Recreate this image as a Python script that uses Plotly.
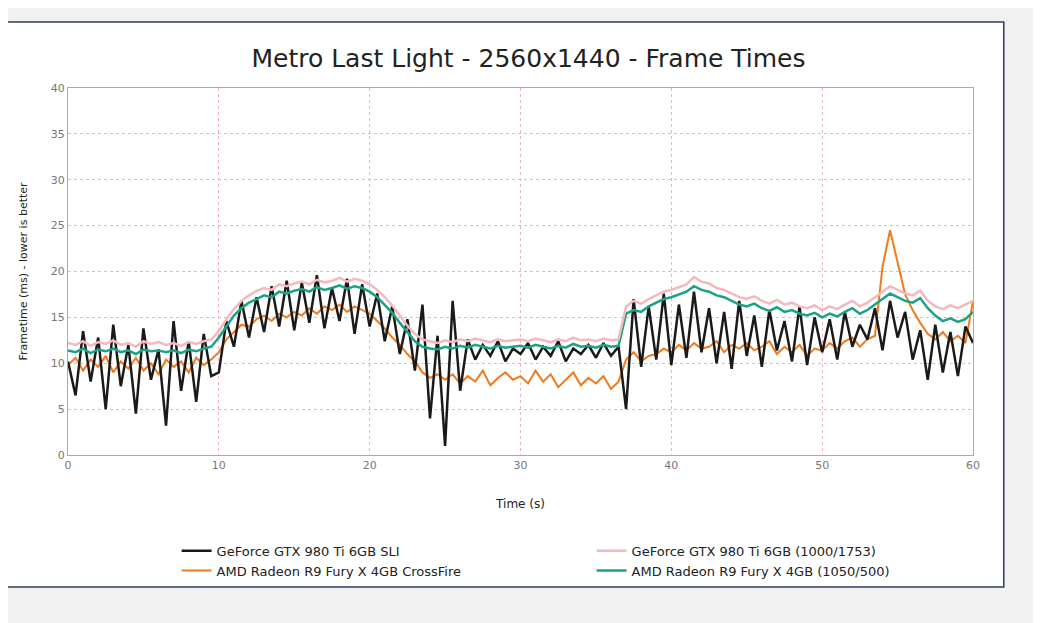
import plotly.graph_objects as go

t=[i*0.5 for i in range(121)]

pink=[12.2,12.0,12.4,11.9,12.3,12.1,12.5,12.0,12.2,11.8,12.4,12.1,12.3,12.0,12.2,11.9,12.3,12.1,12.4,12.6,
      13.5,14.8,15.9,16.8,17.4,17.9,18.2,18.0,18.6,18.4,
      18.7,18.9,18.6,19.1,18.8,19.0,19.3,18.9,19.2,19.0,
      18.6,18.0,17.2,16.3,15.2,14.1,13.2,12.6,12.4,12.2,
      12.5,12.3,12.6,12.4,12.7,12.5,12.3,12.6,12.4,12.5,
      12.6,12.4,12.7,12.5,12.3,12.6,12.4,12.8,12.5,12.6,
      12.4,12.7,12.5,12.6,16.2,16.8,16.5,17.0,17.4,17.8,
      18.0,18.3,18.6,19.4,18.9,18.7,18.2,18.0,17.6,17.2,
      17.0,17.3,16.8,16.5,16.9,16.4,16.6,16.2,16.0,16.3,
      15.8,16.2,15.9,16.4,16.8,16.2,16.6,17.2,17.8,18.4,
      18.0,17.6,17.4,17.9,16.8,16.2,15.9,16.3,16.0,16.4,16.8]

green=[11.4,11.2,11.6,11.1,11.5,11.3,11.6,11.2,11.4,11.0,11.5,11.3,11.4,11.2,11.4,11.1,11.5,11.3,11.6,11.8,
       12.8,14.0,15.2,16.0,16.6,17.0,17.4,17.2,17.8,17.6,
       17.9,18.1,17.8,18.3,18.0,18.2,18.5,18.1,18.4,18.2,
       17.8,17.2,16.4,15.5,14.4,13.4,12.4,11.8,11.6,11.5,
       11.8,11.6,11.9,11.7,12.0,11.8,11.6,11.9,11.7,11.8,
       11.9,11.7,12.0,11.8,11.6,11.9,11.7,12.1,11.8,11.9,
       11.7,12.0,11.8,11.9,15.4,15.8,15.6,16.2,16.6,17.0,
       17.2,17.5,17.8,18.4,18.0,17.8,17.4,17.2,16.8,16.4,
       16.2,16.5,16.0,15.7,16.1,15.6,15.8,15.4,15.2,15.5,
       15.0,15.4,15.1,15.6,16.0,15.4,15.8,16.4,17.0,17.6,
       17.2,16.8,16.6,17.1,16.0,15.2,14.6,14.9,14.5,14.8,15.6]

orange=[9.8,10.6,9.2,10.4,9.6,10.8,9.0,10.2,9.4,10.6,9.2,10.0,8.8,10.4,9.6,10.2,9.0,10.6,9.8,10.4,
        11.2,12.6,13.4,14.2,14.0,14.8,15.2,14.6,15.4,15.0,
        15.6,15.2,16.0,15.4,16.2,15.8,16.4,15.6,16.2,15.8,
        15.4,14.6,13.8,12.8,12.0,11.0,10.2,9.0,8.4,8.8,
        8.2,8.8,7.8,8.6,8.0,9.2,7.6,8.4,9.0,8.2,
        8.6,7.8,9.2,8.0,8.8,7.4,8.2,9.0,7.6,8.4,
        7.8,8.6,7.2,8.0,10.4,11.2,10.2,10.8,11.0,11.6,
        11.2,12.0,11.4,12.2,11.6,11.8,12.4,11.2,12.0,11.6,
        12.2,11.4,11.8,12.4,11.0,11.8,11.2,12.0,10.8,11.6,
        11.4,12.2,11.6,12.4,12.8,11.8,12.6,13.0,20.5,24.5,
        21.0,17.5,15.8,14.4,13.2,12.6,13.4,12.4,13.0,12.2,16.8]

black=[10.2,6.5,13.5,8.0,12.8,5.0,14.2,7.5,12.0,4.5,13.8,8.2,11.5,3.2,14.6,7.0,12.4,5.8,13.2,8.6,
       9.0,14.6,11.8,16.8,12.8,17.2,13.4,18.4,14.0,19.0,
       13.6,18.8,14.4,19.6,13.8,18.2,14.6,19.2,13.2,18.6,
       14.0,17.6,12.4,16.2,11.0,14.8,9.2,16.4,4.0,13.0,
       1.0,16.8,7.0,12.6,10.4,12.0,10.8,12.4,10.2,11.6,
       11.0,12.2,10.4,11.8,10.8,12.4,10.2,11.6,11.0,12.0,
       10.6,12.2,10.8,11.8,5.0,17.0,9.6,16.2,10.4,17.6,
       9.8,16.4,10.6,17.8,11.2,16.0,10.0,15.6,9.4,16.8,
       10.8,15.2,9.6,15.8,11.4,14.6,10.2,16.2,9.8,15.0,
       11.2,14.8,10.4,15.6,11.8,14.2,12.6,16.0,11.4,16.8,
       12.8,15.6,10.4,13.6,8.2,14.2,9.0,13.4,8.6,14.0,12.2]

fig=go.Figure()
fig.add_trace(go.Scatter(x=t,y=orange,mode='lines',name='AMD Radeon R9 Fury X 4GB CrossFire',line=dict(color='#f07a1e',width=2),legendrank=3))
fig.add_trace(go.Scatter(x=t,y=black,mode='lines',name='GeForce GTX 980 Ti 6GB SLI',line=dict(color='#1a1a1a',width=2.5),legendrank=1))
fig.add_trace(go.Scatter(x=t,y=green,mode='lines',name='AMD Radeon R9 Fury X 4GB (1050/500)',line=dict(color='#1aa383',width=2.5),legendrank=4))
fig.add_trace(go.Scatter(x=t,y=pink,mode='lines',name='GeForce GTX 980 Ti 6GB (1000/1753)',line=dict(color='#f5b8bc',width=2.5),legendrank=2))

fig.update_layout(
    width=1041,height=623,
    margin=dict(l=60,r=76,t=80,b=176,autoexpand=False),
    paper_bgcolor='#f1f1f1',plot_bgcolor='#f6f6f6',
    font=dict(family='DejaVu Sans',color='#333'),
    title=dict(text='Metro Last Light - 2560x1440 - Frame Times',x=0.5,y=0.92,yanchor='middle',font=dict(size=25,color='#222')),
    legend=dict(orientation='h',x=0.12,y=-0.22,yanchor='top',entrywidth=370,font=dict(size=13,color='#222'),bgcolor='rgba(0,0,0,0)'),
    shapes=[dict(type='rect',xref='paper',yref='paper',x0=-0.075,x1=1.034,y0=-0.36,y1=1.18,
                 fillcolor='white',line=dict(color='#2c3e5a',width=1.5),layer='below')]
)
fig.update_xaxes(range=[0,60],dtick=10,showgrid=True,gridcolor='#eeb4c0',griddash='dot',zeroline=False,
                 showline=True,linecolor='#aaa',mirror=True,tickfont=dict(size=11,color='#777'),
                 title=dict(text='Time (s)',font=dict(size=12,color='#222'),standoff=28))
fig.update_yaxes(range=[0,40],dtick=5,showgrid=True,gridcolor='#eeb4c0',griddash='dot',zeroline=False,
                 showline=True,linecolor='#aaa',mirror=True,tickfont=dict(size=11,color='#777'),
                 title=dict(text='Frametime (ms) - lower is better',font=dict(size=11,color='#222'),standoff=20))
fig.write_html("out.html")
